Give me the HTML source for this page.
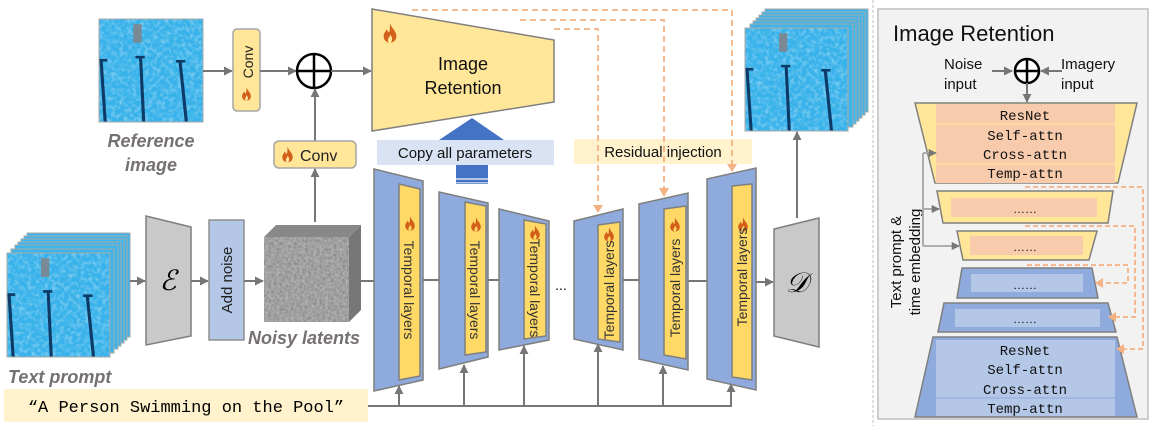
<!DOCTYPE html>
<html><head><meta charset="utf-8"><style>
html,body{margin:0;padding:0;background:#fff;}
svg{display:block;font-family:"Liberation Sans",sans-serif;}
.mono{font-family:"Liberation Mono",monospace;}
</style></head><body>
<svg width="1152" height="426" viewBox="0 0 1152 426" xmlns="http://www.w3.org/2000/svg">
<defs>
<marker id="ag" viewBox="0 0 10 10" refX="9" refY="5" markerWidth="4.5" markerHeight="4.5" orient="auto"><path d="M0,0L10,5L0,10z" fill="#767676"/></marker>
<filter id="noise" x="0" y="0" width="100%" height="100%"><feTurbulence type="fractalNoise" baseFrequency="0.35" numOctaves="2" seed="3"/><feColorMatrix type="matrix" values="0 0 0 0 0.25  0 0 0 0 0.25  0 0 0 0 0.25  1.6 0 0 0 -0.35"/></filter>
<filter id="pn" x="0" y="0" width="100%" height="100%"><feTurbulence type="fractalNoise" baseFrequency="0.25" numOctaves="2" seed="7"/><feColorMatrix type="matrix" values="0 0 0 0 1  0 0 0 0 1  0 0 0 0 1  1.2 0 0 0 -0.5"/></filter>
<symbol id="pool" viewBox="0 0 100 100" preserveAspectRatio="none">
<rect width="100" height="100" fill="#38b2ea"/>
<rect width="100" height="100" filter="url(#pn)" opacity="0.7"/>
<path d="M2,40 L6,100 M40,38 L43,100 M78,42 L84,100" stroke="#0d3a66" stroke-width="3" fill="none"/>
<path d="M0,40h8 M35,37h9 M74,41h9" stroke="#0d3a66" stroke-width="2.5"/>
<rect x="33" y="5" width="8" height="18" fill="#7a8a94"/>
</symbol>
<symbol id="fire" viewBox="0 0 10 12">
<path d="M5,0 C6,3 9,5 9,8 C9,10.5 7,12 5,12 C3,12 1,10.5 1,8 C1,6 2.5,5 3,3.5 C3.5,5 4,5.5 4.5,5.5 C5,4 5,2 5,0Z M5,12 C4,12 3.5,11 3.8,9.8 C4.2,8.5 5,8.3 5,7 C6,8 6.5,9 6.3,10.3 C6,11.5 5.6,12 5,12Z" fill="#d2601a" fill-rule="evenodd"/>
</symbol>
</defs>

<use href="#pool" x="99" y="19" width="104" height="103"/>
<rect x="99" y="19" width="104" height="103" fill="none" stroke="#aaa"/>
<text x="151" y="147" text-anchor="middle" font-size="18" font-weight="bold" font-style="italic" fill="#767171">Reference</text>
<text x="151" y="171" text-anchor="middle" font-size="18" font-weight="bold" font-style="italic" fill="#767171">image</text>
<line x1="203" y1="71" x2="232" y2="71" stroke="#767676" stroke-width="2" marker-end="url(#ag)"/>
<rect x="233" y="29" width="27" height="82" rx="4" fill="#ffe699" stroke="#a5a5a5" stroke-width="1.5"/>
<text transform="translate(253,62) rotate(-90)" text-anchor="middle" font-size="14" fill="#222">Conv</text>
<use href="#fire" x="241" y="87" width="11" height="14"/>
<line x1="260" y1="71" x2="296" y2="71" stroke="#767676" stroke-width="2" marker-end="url(#ag)"/>
<circle cx="314" cy="71" r="17" fill="#fff" stroke="#000" stroke-width="2.5"/>
<line x1="297" y1="71" x2="331" y2="71" stroke="#000" stroke-width="2.5"/>
<line x1="314" y1="54" x2="314" y2="88" stroke="#000" stroke-width="2.5"/>
<line x1="331" y1="71" x2="371" y2="71" stroke="#767676" stroke-width="2" marker-end="url(#ag)"/>
<line x1="315" y1="141" x2="315" y2="89" stroke="#767676" stroke-width="2" marker-end="url(#ag)"/>
<rect x="274" y="141" width="82" height="27" rx="5" fill="#ffe699" stroke="#a5a5a5" stroke-width="1.5"/>
<use href="#fire" x="281" y="146" width="13" height="17"/>
<text x="300" y="161" font-size="16" fill="#222">Conv</text>
<line x1="315" y1="222" x2="315" y2="169" stroke="#767676" stroke-width="2" marker-end="url(#ag)"/>

<polygon points="372,9 554,40 554,102 372,131" fill="#ffe699" stroke="#7f7f7f" stroke-width="1.5"/>
<use href="#fire" x="382" y="23" width="16" height="20"/>
<text x="463" y="70" text-anchor="middle" font-size="18" fill="#111">Image</text>
<text x="463" y="94" text-anchor="middle" font-size="18" fill="#111">Retention</text>

<rect x="456" y="140" width="32" height="44" fill="#4472c4"/>
<rect x="456" y="178" width="32" height="2" fill="#b4c7e7"/>
<rect x="456" y="182" width="32" height="1.5" fill="#b4c7e7"/>
<polygon points="439,140 472,118 504,140" fill="#4472c4"/>
<rect x="377" y="140" width="177" height="25" fill="#dae3f3"/>
<text x="465" y="158" text-anchor="middle" font-size="15" fill="#111">Copy all parameters</text>
<rect x="574" y="139" width="178" height="25" fill="#fff2cc"/>
<text x="663" y="157" text-anchor="middle" font-size="15" fill="#111">Residual injection</text>

<g stroke="#f4b183" stroke-width="1.8" stroke-dasharray="6,4" fill="none">
<polyline points="412,10 732,10 732,170"/>
<polyline points="520,20 664,20 664,195"/>
<polyline points="554,29 598,29 598,211"/>
</g>
<polygon points="727,164 737,164 732,172" fill="#f4b183"/>
<polygon points="659,188 669,188 664,197" fill="#f4b183"/>
<polygon points="593,205 603,205 598,213" fill="#f4b183"/>

<g>
<rect x="765" y="9" width="103" height="103" fill="#3db4ea" stroke="#aaa"/>
<rect x="762" y="12" width="103" height="103" fill="#3db4ea" stroke="#aaa"/>
<rect x="759" y="15" width="103" height="103" fill="#3db4ea" stroke="#aaa"/>
<rect x="756" y="18" width="103" height="103" fill="#3db4ea" stroke="#aaa"/>
<rect x="753" y="21" width="103" height="103" fill="#3db4ea" stroke="#aaa"/>
<rect x="750" y="24" width="103" height="103" fill="#3db4ea" stroke="#aaa"/>
<use href="#pool" x="745" y="28" width="103" height="103"/>
<rect x="745" y="28" width="103" height="103" fill="none" stroke="#aaa"/>
</g>
<line x1="797" y1="218" x2="797" y2="132" stroke="#767676" stroke-width="2" marker-end="url(#ag)"/>

<g>
<rect x="27" y="233" width="103" height="104" fill="#3db4ea" stroke="#aaa"/>
<rect x="24" y="236" width="103" height="104" fill="#3db4ea" stroke="#aaa"/>
<rect x="21" y="239" width="103" height="104" fill="#3db4ea" stroke="#aaa"/>
<rect x="18" y="242" width="103" height="104" fill="#3db4ea" stroke="#aaa"/>
<rect x="15" y="245" width="103" height="104" fill="#3db4ea" stroke="#aaa"/>
<rect x="11" y="249" width="103" height="104" fill="#3db4ea" stroke="#aaa"/>
<use href="#pool" x="7" y="253" width="103" height="104"/>
<rect x="7" y="253" width="103" height="104" fill="none" stroke="#aaa"/>
</g>
<line x1="130" y1="281" x2="145" y2="281" stroke="#767676" stroke-width="2" marker-end="url(#ag)"/>
<polygon points="146,216 191,227 191,336 146,345" fill="#c9c9c9" stroke="#7f7f7f" stroke-width="1.5"/>
<text x="168" y="290" text-anchor="middle" font-size="28" font-style="italic" font-family="Liberation Serif,serif" fill="#000">ℰ</text>
<line x1="191" y1="281" x2="208" y2="281" stroke="#767676" stroke-width="2" marker-end="url(#ag)"/>
<rect x="209" y="220" width="35" height="120" fill="#b4c7e7" stroke="#8f8f8f" stroke-width="1.5"/>
<text transform="translate(232,280) rotate(-90)" text-anchor="middle" font-size="15" fill="#222">Add noise</text>
<line x1="244" y1="281" x2="263" y2="281" stroke="#767676" stroke-width="2" marker-end="url(#ag)"/>
<polygon points="264,237 276,225 361,225 349,237" fill="#888"/>
<polygon points="349,237 361,225 361,310 349,322" fill="#777"/>
<rect x="264" y="237" width="85" height="85" fill="#b3b3b3"/>
<rect x="264" y="237" width="85" height="85" filter="url(#noise)"/>
<text x="248" y="344" font-size="18" font-weight="bold" font-style="italic" fill="#767171">Noisy latents</text>
<line x1="361" y1="281" x2="374" y2="281" stroke="#767676" stroke-width="2"/>

<text x="8" y="383" font-size="18" font-weight="bold" font-style="italic" fill="#767171">Text prompt</text>
<rect x="4" y="389" width="364" height="33" fill="#fff2cc"/>
<text x="186" y="412" text-anchor="middle" class="mono" font-size="17" fill="#000">“A Person Swimming on the Pool”</text>

<g stroke="#767676" stroke-width="2">
<line x1="423" y1="280" x2="439" y2="280"/>
<line x1="488" y1="280" x2="499" y2="280"/>
<line x1="623" y1="280" x2="639" y2="280"/>
<line x1="688" y1="281" x2="707" y2="281"/>
<line x1="756" y1="282" x2="773" y2="282" marker-end="url(#ag)"/>
<polyline points="368,406 732,406" fill="none"/>
<line x1="399" y1="406" x2="399" y2="386" marker-end="url(#ag)"/>
<line x1="464" y1="406" x2="464" y2="365" marker-end="url(#ag)"/>
<line x1="524" y1="406" x2="524" y2="346" marker-end="url(#ag)"/>
<line x1="598" y1="406" x2="598" y2="344" marker-end="url(#ag)"/>
<line x1="663" y1="406" x2="663" y2="366" marker-end="url(#ag)"/>
<line x1="731" y1="406" x2="731" y2="384" marker-end="url(#ag)"/>
</g>
<text x="561" y="290" text-anchor="middle" font-size="14">...</text>

<g stroke="#7f7f7f" stroke-width="1.5">
<polygon points="374,169 423,181 423,380 374,391" fill="#8faadc"/>
<polygon points="399,184 420,189 420,376 399,380" fill="#ffd966"/>
<polygon points="439,192 488,203 488,357 439,369" fill="#8faadc"/>
<polygon points="465,202 486,206 486,352 465,355" fill="#ffd966"/>
<polygon points="499,209 549,221 549,340 499,350" fill="#8faadc"/>
<polygon points="524,220 546,224 546,336 524,339" fill="#ffd966"/>
<polygon points="574,221 623,209 623,350 574,339" fill="#8faadc"/>
<polygon points="598,225 620,222 620,342 598,339" fill="#ffd966"/>
<polygon points="639,204 688,193 688,370 639,359" fill="#8faadc"/>
<polygon points="664,209 686,206 686,359 664,355" fill="#ffd966"/>
<polygon points="707,179 756,168 756,390 707,379" fill="#8faadc"/>
<polygon points="732,186 752,184 752,380 732,377" fill="#ffd966"/>
<polygon points="774,229 819,218 819,347 774,336" fill="#c9c9c9"/>
</g>
<text x="797" y="292" text-anchor="middle" font-size="28" font-style="italic" font-family="Liberation Serif,serif">𝒟</text>
<use href="#fire" x="404" y="216" width="12" height="15"/>
<use href="#fire" x="470" y="217" width="12" height="15"/>
<use href="#fire" x="529" y="225" width="12" height="15"/>
<use href="#fire" x="603" y="227" width="12" height="15"/>
<use href="#fire" x="669" y="217" width="12" height="15"/>
<use href="#fire" x="737" y="217" width="12" height="15"/>
<g font-size="14" fill="#333">
<text transform="translate(404,290) rotate(90)" text-anchor="middle">Temporal layers</text>
<text transform="translate(470,290) rotate(90)" text-anchor="middle">Temporal layers</text>
<text transform="translate(530,288) rotate(90)" text-anchor="middle">Temporal layers</text>
<text transform="translate(614,290) rotate(-90)" text-anchor="middle">Temporal layers</text>
<text transform="translate(680,288) rotate(-90)" text-anchor="middle">Temporal layers</text>
<text transform="translate(747,277) rotate(-90)" text-anchor="middle">Temporal layers</text>
</g>

<line x1="873" y1="0" x2="873" y2="426" stroke="#bfbfbf" stroke-dasharray="3,2"/>
<rect x="878" y="9" width="270" height="410" fill="#f2f2f2" stroke="#bfbfbf" stroke-width="1.5"/>
<text x="893" y="41" font-size="22" fill="#111">Image Retention</text>
<text x="944" y="69" font-size="15" fill="#111">Noise</text>
<text x="944" y="89" font-size="15" fill="#111">input</text>
<text x="1061" y="69" font-size="15" fill="#111">Imagery</text>
<text x="1061" y="89" font-size="15" fill="#111">input</text>
<line x1="992" y1="71" x2="1012" y2="71" stroke="#767676" stroke-width="2" marker-end="url(#ag)"/>
<line x1="1062" y1="71" x2="1041" y2="71" stroke="#767676" stroke-width="2" marker-end="url(#ag)"/>
<circle cx="1027" cy="71" r="12" fill="#fff" stroke="#000" stroke-width="2.5"/>
<line x1="1015" y1="71" x2="1039" y2="71" stroke="#000" stroke-width="2.5"/>
<line x1="1027" y1="59" x2="1027" y2="83" stroke="#000" stroke-width="2.5"/>
<line x1="1027" y1="83" x2="1027" y2="102" stroke="#767676" stroke-width="2" marker-end="url(#ag)"/>

<g stroke="#7f7f7f" stroke-width="1.5">
<polygon points="915,103 1137,103 1118,183 935,183" fill="#ffe699"/>
<polygon points="937,191 1113,191 1108,223 943,223" fill="#ffe699"/>
<polygon points="957,231 1097,231 1089,260 963,260" fill="#ffe699"/>
<polygon points="962,268 1092,268 1098,298 957,298" fill="#8faadc"/>
<polygon points="944,303 1108,303 1116,332 938,332" fill="#8faadc"/>
<polygon points="933,337 1117,337 1137,417 915,417" fill="#8faadc"/>
</g>
<rect x="936" y="104" width="179" height="79" fill="#f8cbad"/>
<line x1="936" y1="124" x2="1115" y2="124" stroke="#ffe699"/>
<line x1="936" y1="164" x2="1115" y2="164" stroke="#ffe699"/>
<rect x="951" y="198" width="146" height="19" fill="#f8cbad"/>
<rect x="970" y="236" width="113" height="19" fill="#f8cbad"/>
<rect x="971" y="274" width="112" height="18" fill="#b4c7e7"/>
<rect x="955" y="309" width="145" height="18" fill="#b4c7e7"/>
<rect x="936" y="340" width="179" height="76" fill="#b4c7e7"/>
<line x1="936" y1="398" x2="1115" y2="398" stroke="#8faadc"/>
<g class="mono" font-size="14" fill="#111" text-anchor="middle">
<text x="1025" y="120">ResNet</text>
<text x="1025" y="140">Self-attn</text>
<text x="1025" y="159">Cross-attn</text>
<text x="1025" y="178">Temp-attn</text>
<text x="1025" y="355">ResNet</text>
<text x="1025" y="374">Self-attn</text>
<text x="1025" y="394">Cross-attn</text>
<text x="1025" y="413">Temp-attn</text>
</g>
<g font-size="12" fill="#111" text-anchor="middle">
<text x="1025" y="213">……</text>
<text x="1025" y="251">……</text>
<text x="1025" y="289">……</text>
<text x="1025" y="323">……</text>
</g>
<text transform="translate(901,262) rotate(-90)" text-anchor="middle" font-size="15" fill="#111">Text prompt &amp;</text>
<text transform="translate(920,262) rotate(-90)" text-anchor="middle" font-size="15" fill="#111">time embedding</text>
<g stroke="#a5a5a5" stroke-width="1.8" fill="none">
<polyline points="923,153 923,246"/>
<line x1="923" y1="153" x2="936" y2="153" marker-end="url(#ag)"/>
<line x1="923" y1="209" x2="939" y2="209" marker-end="url(#ag)"/>
<line x1="923" y1="246" x2="959" y2="246" marker-end="url(#ag)"/>
</g>
<g stroke="#f4b183" stroke-width="1.8" stroke-dasharray="5,3" fill="none">
<polyline points="1025,187 1143,187 1143,349 1122,349"/>
<polyline points="1025,226 1135,226 1135,317 1113,317"/>
<polyline points="1027,265 1128,265 1128,283 1100,283"/>
</g>
<polygon points="1116,349 1124,344 1124,354" fill="#f4b183"/>
<polygon points="1108,317 1116,312 1116,322" fill="#f4b183"/>
<polygon points="1095,283 1103,278 1103,288" fill="#f4b183"/>
</svg>
</body></html>
